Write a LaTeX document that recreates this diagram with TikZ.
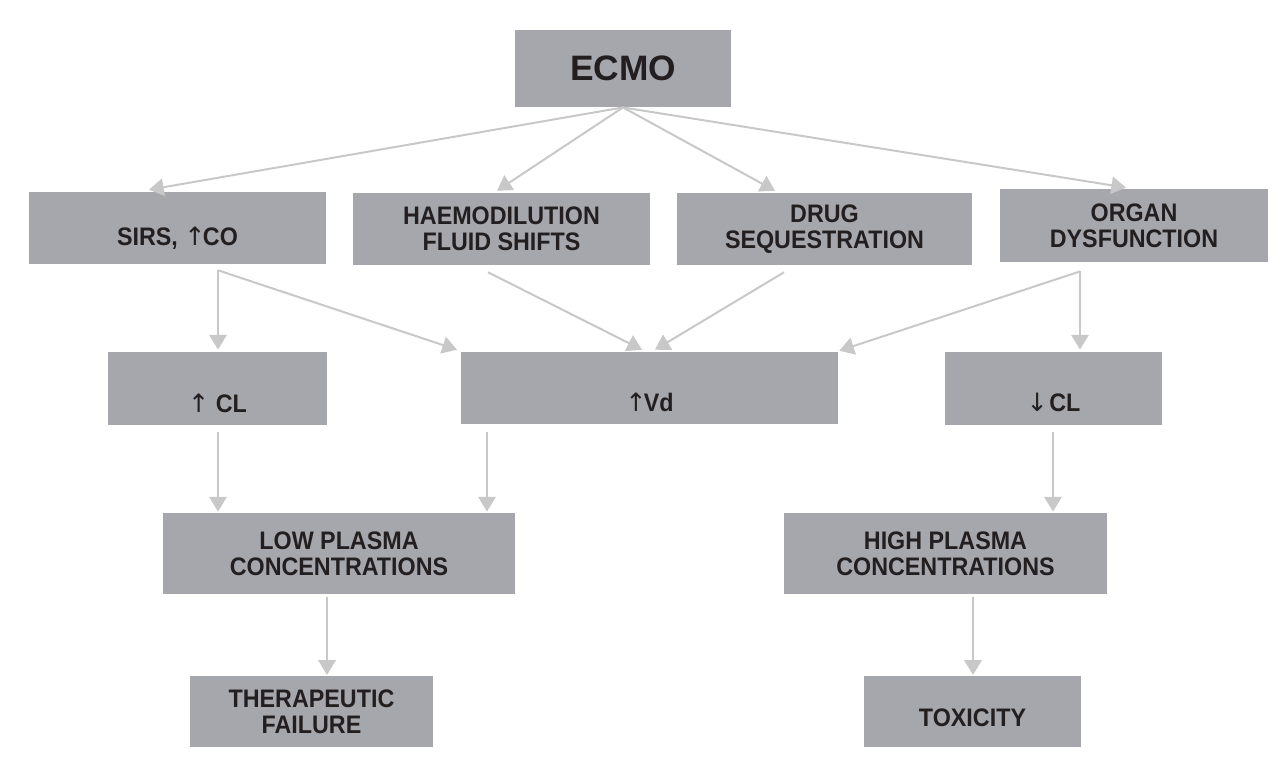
\documentclass[tikz,border=0pt]{standalone}
\usepackage{fontspec}
\setmainfont{Liberation Sans}[FakeStretch=0.92]
\newfontfamily\ecmofont{Liberation Sans}
\newfontfamily\arrfont{DejaVu Sans}
\usetikzlibrary{arrows.meta,calc}
\definecolor{boxgrey}{RGB}{166,167,172}
\definecolor{linegrey}{RGB}{200,200,200}
\definecolor{ink}{RGB}{35,31,32}
\newcommand{\uarr}{{\arrfont\mdseries\char"2191}}
\newcommand{\darr}{{\arrfont\mdseries\char"2193}}
\tikzset{
  box/.style={fill=boxgrey, draw=none, text=ink, font=\fontsize{19}{19.5}\selectfont\bfseries,
    align=center, inner sep=0pt, minimum width=#1*0.75pt},
  box/.default=200,
  h72/.style={minimum height=54pt},
  h81/.style={minimum height=61pt},
  down/.style={text height=#1, text depth=0pt},
  conn/.style={draw=linegrey, line width=1.5pt, -{Triangle[width=13pt,length=11pt]}}
}
\begin{document}
\begin{tikzpicture}[x=0.75pt,y=-0.75pt]
\useasboundingbox (0,0) rectangle (1287,775);
\node[box=216, minimum height=58pt, font=\ecmofont\fontsize{26.5}{26.5}\selectfont\bfseries] (ecmo) at (623,68.5) {ECMO};
\node[box=297, h72, down=26.6pt] (sirs) at (177.5,228) {SIRS, \uarr\kern-2pt CO};
\node[box=297, h72] (haemo) at (501.5,229) {HAEMODILUTION\\FLUID SHIFTS};
\node[box=295, h72] (drug) at (824.5,229) {DRUG\\SEQUESTRATION};
\node[box=268, minimum height=55pt] (organ) at (1134,225.5) {ORGAN\\DYSFUNCTION};
\node[box=219, minimum height=55pt, down=35.6pt] (cl) at (217.5,388.5) {\uarr\ CL};
\node[box=377, h72, down=35.6pt] (vd) at (649.5,388) {\uarr\kern-2pt Vd};
\node[box=217, minimum height=55pt, down=34pt] (dcl) at (1053.5,388.5) {\darr\kern1pt CL};
\node[box=352, h81] (low) at (339,553.5) {LOW PLASMA\\CONCENTRATIONS};
\node[box=323, h81] (high) at (945.5,553.5) {HIGH PLASMA\\CONCENTRATIONS};
\node[box=243, minimum height=53pt] (ther) at (311.5,711.5) {THERAPEUTIC\\FAILURE};
\node[box=217, minimum height=53pt, down=22.6pt] (tox) at (972.5,711.5) {TOXICITY};

\draw[conn] (ecmo.south) -- ($(sirs.north)+(-28.5,-2)$);
\draw[conn] (ecmo.south) -- ($(haemo.north)+(-4.5,-2)$);
\draw[conn] (ecmo.south) -- ($(drug.north)+(-49.5,-2)$);
\draw[conn] (ecmo.south) -- ($(organ.north)+(-8,-1)$);

\draw[conn] ($(sirs.south)+(40.5,6)$) -- ($(cl.north)+(0.5,-2)$);
\draw[conn] ($(sirs.south)+(40.5,6)$) -- ($(vd.north)+(-192.5,-2)$);
\draw[conn] ($(haemo.south)+(-13.5,7)$) -- ($(vd.north)+(-7.5,-2)$);
\draw[conn] ($(drug.south)+(-40.5,7)$) -- ($(vd.north)+(5.5,-2)$);
\draw[conn] ($(organ.south)+(-54,9)$) -- ($(vd.north east)+(1,-1)$);
\draw[conn] ($(organ.south)+(-54,9)$) -- ($(dcl.north)+(26.5,-2)$);

\draw[conn] ($(cl.south)+(0.5,7)$) -- ($(low.north)+(-121,-1)$);
\draw[conn] ($(vd.south)+(-162.5,8)$) -- ($(low.north)+(148,-1)$);
\draw[conn] ($(dcl.south)+(-0.5,7)$) -- ($(high.north)+(107.5,-1)$);
\draw[conn] ($(low.south)+(-12,3)$) -- ($(ther.north)+(15.5,-1)$);
\draw[conn] ($(high.south)+(27.5,3)$) -- ($(tox.north)+(0.5,-1)$);
\end{tikzpicture}
\end{document}
